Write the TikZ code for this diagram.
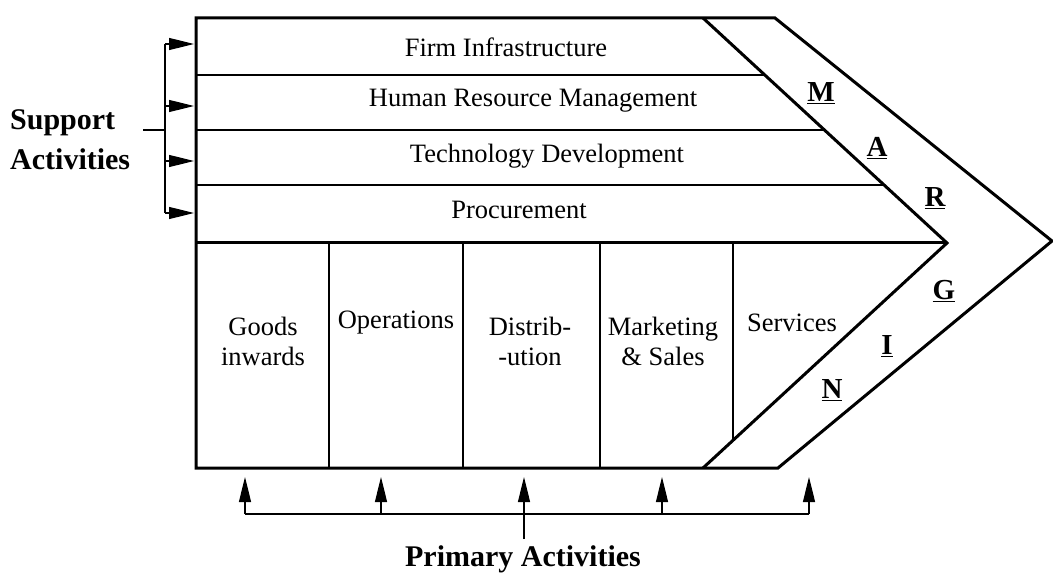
\documentclass[tikz,border=0pt]{standalone}
\usepackage{fontspec}
\setmainfont{Liberation Serif}
\usetikzlibrary{arrows.meta}
\tikzset{
  thickline/.style={line width=3pt},
  thinline/.style={line width=1.2pt},
  lbl/.style={font=\fontsize{26.5}{30}\selectfont, inner sep=0pt, align=center},
  big/.style={font=\fontsize{30}{40}\selectfont\bfseries, inner sep=0pt},
  letter/.style={font=\fontsize{29}{32}\selectfont\bfseries, inner sep=0pt},
  arr/.style={line width=1.2pt, -{Triangle[length=25pt,width=12pt]}},
  bracket/.style={line width=1.2pt}
}
\newcommand{\ul}[1]{\underline{#1}}
\begin{document}
\begin{tikzpicture}[x=1pt,y=-1pt]
\useasboundingbox (0,0) rectangle (1053,577);
% outer chevron
\draw[thickline, line join=miter] (196,18) -- (775,18) -- (1052,241) -- (778,468) -- (196,468) -- cycle;
% inner diagonal
\draw[thickline] (703,18) -- (947,243) -- (703,468);
\draw[thickline] (196,243) -- (947,243);
% support rows
\draw[thinline] (196,75) -- (764.8,75);
\draw[thinline] (196,130) -- (824.5,130);
\draw[thinline] (196,185) -- (884.1,185);
% primary dividers
\draw[thinline] (329,243) -- (329,468);
\draw[thinline] (463,243) -- (463,468);
\draw[thinline] (600,243) -- (600,468);
\draw[thinline] (733,243) -- (733,440.3);
% support texts
\node[lbl] (fi) at (506,47) {Firm Infrastructure};
\node[lbl] (hrm) at (533,101) {Human Resource Management};
\node[lbl] (td) at (547,156) {Technology Development};
\node[lbl] (pr) at (519,210) {Procurement};
% primary texts
\node[lbl] (gi) at (263,341) {Goods\\inwards};
\node[lbl] (op) at (396,323) {Operations};
\node[lbl] (di) at (530,341) {Distrib-\\-ution};
\node[lbl] (ms) at (663,341) {Marketing\\\& Sales};
\node[lbl] (sv) at (792,323) {Services};
% margin letters
\node[letter] (m) at (821,93) {\ul{M}};
\node[letter] (a) at (877,148) {\ul{A}};
\node[letter] (r) at (935,198) {\ul{R}};
\node[letter] (g) at (944,291) {\ul{G}};
\node[letter] (i) at (887,346) {\ul{I}};
\node[letter] (n) at (832,390) {\ul{N}};
% support activities bracket
\node[big, anchor=west, align=left] (sa) at (10,140) {Support\\Activities};
\coordinate (b1) at (165,44);
\coordinate (b2) at (165,106);
\coordinate (b3) at (165,161);
\coordinate (b4) at (165,213);
\coordinate (bt) at (143,130);
\coordinate (bm) at (165,130);
\draw[bracket] (b1) -- (b4);
\draw[bracket] (bt) -- (bm);
\foreach \c/\y in {b1/44,b2/106,b3/161,b4/213} \draw[arr] (\c) -- (194,\y);
% primary activities
\node[big, anchor=base] (pa) at (523,566) {Primary Activities};
\coordinate (p1) at (245,514);
\coordinate (p2) at (381,514);
\coordinate (p3) at (524,514);
\coordinate (p4) at (662,514);
\coordinate (p5) at (809,514);
\coordinate (pm) at (524,539);
\draw[bracket] (p1) -- (p5);
\draw[bracket] (pm) -- (p3);
\foreach \c/\x in {p1/245,p2/381,p3/524,p4/662,p5/809} \draw[arr] (\c) -- (\x,477);
\end{tikzpicture}
\end{document}
